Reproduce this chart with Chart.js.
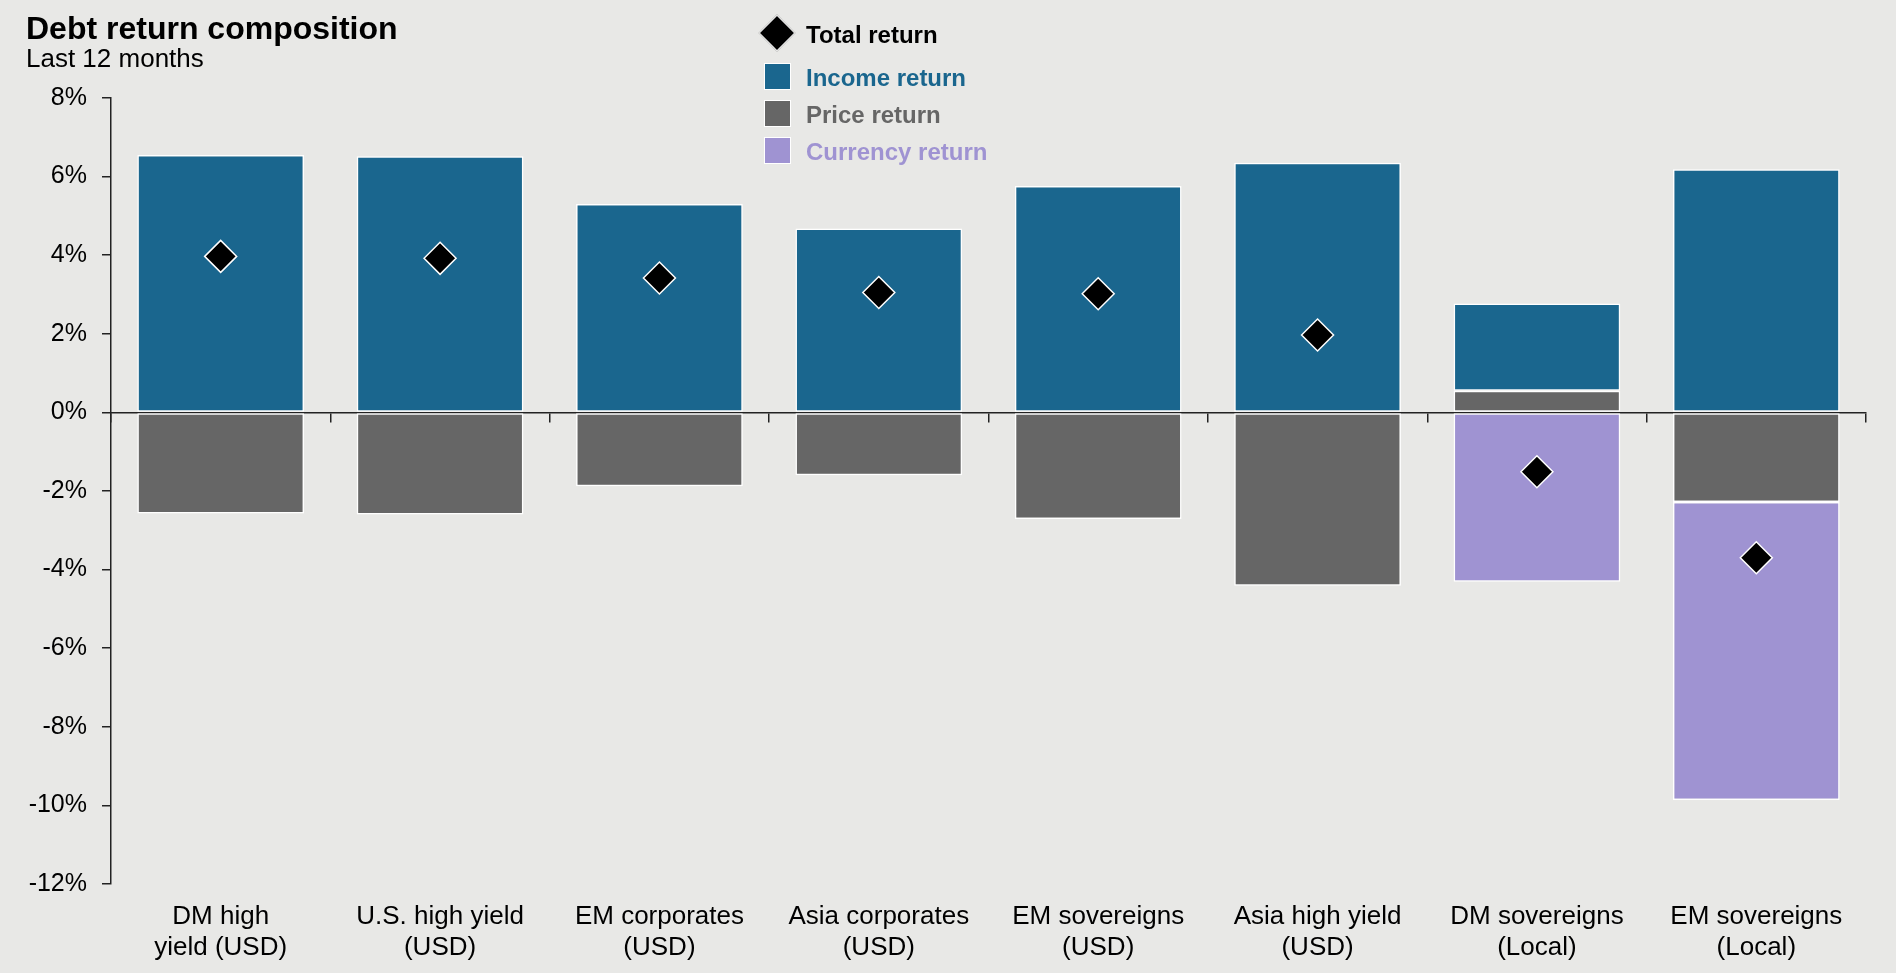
<!DOCTYPE html>
<html>
<head>
<meta charset="utf-8">
<script src="https://cdn.jsdelivr.net/npm/chart.js@4.4.1/dist/chart.umd.min.js"></script>
<style>
  html, body { margin: 0; padding: 0; background: #e8e8e6; }
  body { font-family: "Liberation Sans", Arial, sans-serif; }
  #wrap { position: relative; width: 1896px; height: 973px; }
  #wrap canvas { position: absolute; left: 0; top: 0; }
  .txt { position: absolute; white-space: nowrap; }
  .title { left: 26px; top: 12px; font-size: 32px; line-height: 32px; font-weight: bold; color: #000; }
  .subtitle { left: 26px; top: 45px; font-size: 26px; line-height: 26px; color: #000; }
  .leg { left: 806px; font-size: 24px; line-height: 24px; font-weight: bold; }
  .sw { position: absolute; left: 764px; width: 25px; height: 25px; border: 1.5px solid #fff; }
  .dia { position: absolute; left: 764px; top: 20px; width: 24px; height: 24px; background: #000;
         border: 1.5px solid #fff; transform: rotate(45deg); }
</style>
</head>
<body>
<div id="wrap">
  <canvas id="debtChart"></canvas>
  <div class="txt title">Debt return composition</div>
  <div class="txt subtitle">Last 12 months</div>

  <div class="dia"></div>
  <div class="txt leg" style="top:23px;color:#000;">Total return</div>
  <div class="sw" style="top:63px;background:#1a668e;"></div>
  <div class="txt leg" style="top:66px;color:#1a668e;">Income return</div>
  <div class="sw" style="top:100px;background:#666666;"></div>
  <div class="txt leg" style="top:103px;color:#666666;">Price return</div>
  <div class="sw" style="top:137px;background:#9f93d2;"></div>
  <div class="txt leg" style="top:140px;color:#9f93d2;">Currency return</div>
</div>

<script>
// categorías y series (en %)
const categories = [
    ['DM high', 'yield (USD)'],
    ['U.S. high yield', '(USD)'],
    ['EM corporates', '(USD)'],
    ['Asia corporates', '(USD)'],
    ['EM sovereigns', '(USD)'],
    ['Asia high yield', '(USD)'],
    ['DM sovereigns', '(Local)'],
    ['EM sovereigns', '(Local)']
];
const incomeReturn   = [6.55, 6.52, 5.30, 4.68, 5.76, 6.35, 2.22, 6.19];
const priceReturn    = [-2.57, -2.60, -1.88, -1.60, -2.71, -4.41, 0.55, -2.28];
const currencyReturn = [null, null, null, null, null, null, -4.31, -7.58];
const totalReturn    = [3.97, 3.92, 3.42, 3.05, 3.02, 1.97, -1.51, -3.70];
const yTicks = { min: -12, max: 8, step: 2 };

const FONT = "'Liberation Sans', Arial, sans-serif";
const AXIS = '#222222';

const barBase = {
    type: 'bar',
    stack: 'ret',
    order: 1,
    borderColor: '#ffffff',
    borderWidth: 1.5,
    borderSkipped: false,
    categoryPercentage: 1,
    barPercentage: 0.76
};

new Chart(document.getElementById('debtChart'), {
    data: {
        labels: categories,
        datasets: [
            // precio primero para que el tramo positivo quede debajo del ingreso
            { ...barBase, label: 'Price return', data: priceReturn, backgroundColor: '#666666' },
            { ...barBase, label: 'Income return', data: incomeReturn, backgroundColor: '#1a668e' },
            { ...barBase, label: 'Currency return', data: currencyReturn, backgroundColor: '#9f93d2' },
            {
                type: 'line',
                label: 'Total return',
                data: totalReturn,
                stack: 'total',
                order: 0,
                showLine: false,
                pointStyle: 'rectRot',
                pointRadius: 16,
                pointHoverRadius: 16,
                pointBackgroundColor: '#000000',
                pointBorderColor: '#ffffff',
                pointBorderWidth: 1.5
            }
        ]
    },
    options: {
        responsive: true,
        maintainAspectRatio: false,
        animation: false,
        layout: { padding: { top: 98, right: 30, left: 0, bottom: 0 } },
        plugins: {
            legend: { display: false },
            tooltip: { enabled: false }
        },
        scales: {
            x: {
                stacked: true,
                grid: { display: false, drawTicks: false },
                border: { display: false },
                ticks: {
                    color: '#000',
                    font: { family: FONT, size: 26 },
                    padding: 17,
                    maxRotation: 0,
                    autoSkip: false
                },
                afterFit: (s) => { s.height = 89; }
            },
            // eje en y = 0 con marcas entre categorías
            x2: {
                type: 'category',
                axis: 'x',
                position: { y: 0 },
                offset: true,
                z: 1,
                grid: { offset: true, drawOnChartArea: false, tickLength: 9, color: AXIS, lineWidth: 1.5 },
                border: { color: AXIS, width: 1.5 },
                ticks: { display: false }
            },
            y: {
                stacked: true,
                min: yTicks.min,
                max: yTicks.max,
                grid: { drawOnChartArea: false, tickLength: 9, color: AXIS, lineWidth: 1.5 },
                border: { color: AXIS, width: 1.5 },
                ticks: {
                    stepSize: yTicks.step,
                    color: '#000',
                    padding: 15,
                    font: { family: FONT, size: 25 },
                    callback: (v) => v + '%'
                },
                afterFit: (s) => { s.width = 111; }
            }
        }
    }
});
</script>
</body>
</html>
